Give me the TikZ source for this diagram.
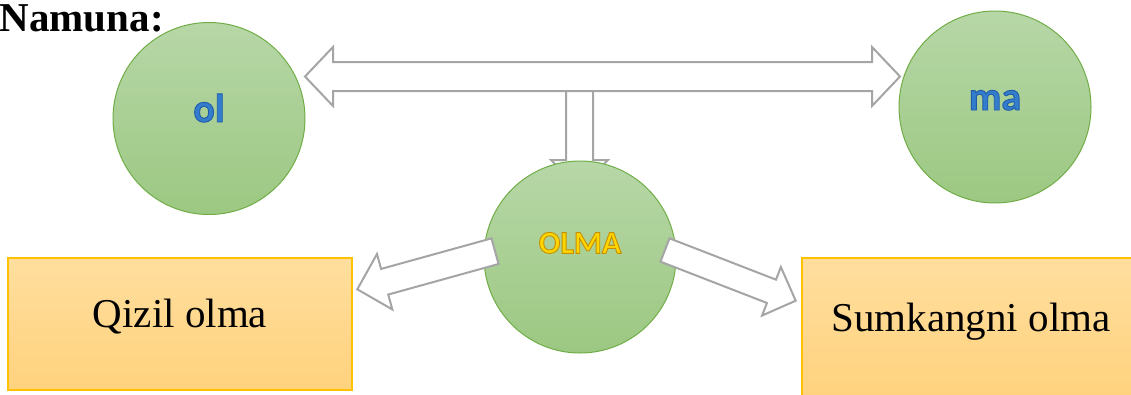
\documentclass[tikz,border=0pt]{standalone}
\usepackage{fontspec}
\setmainfont{Liberation Serif}
\newfontfamily\calib{Carlito}
\usetikzlibrary{calc}
\definecolor{gtop}{RGB}{183,215,167}
\definecolor{gbot}{RGB}{156,200,130}
\definecolor{gedge}{RGB}{112,173,71}
\definecolor{otop}{RGB}{255,222,158}
\definecolor{obot}{RGB}{255,210,125}
\definecolor{oedge}{RGB}{255,192,0}
\definecolor{agray}{RGB}{165,165,165}
\definecolor{lblue}{RGB}{52,125,205}
\definecolor{lgold}{RGB}{255,214,0}
\newcommand\outlined[2]{\special{pdf:literal direct #1 RG 0.9 w 2 Tr}#2\special{pdf:literal direct 0 Tr}}
\tikzset{
  bubble/.style={circle, minimum size=192pt, inner sep=0pt, draw=gedge, line width=1pt,
                 top color=gtop, bottom color=gbot},
  box/.style={rectangle, draw=oedge, line width=1.3pt, top color=otop, bottom color=obot,
              inner sep=0pt, font=\fontsize{41}{41}\selectfont},
  arr/.style={draw=agray, fill=white, line width=2pt, line join=miter},
  bublabel/.style={font=\calib\bfseries\fontsize{40}{40}\selectfont, text=lblue},
}
% single block arrow: tail, tip, shaft half-width, head half-width, head length
\newcommand\blockarr[5]{%
  \coordinate (#1-#2-h) at ($(#2)!#5!(#1)$);
  \draw[arr] ($(#1)!#3!90:(#2)$) -- ($(#1-#2-h)!#3!90:(#2)$) -- ($(#1-#2-h)!#4!90:(#2)$)
    -- (#2) -- ($(#1-#2-h)!#4!-90:(#2)$) -- ($(#1-#2-h)!#3!-90:(#2)$)
    -- ($(#1)!#3!-90:(#2)$) -- cycle;}
% double block arrow: end1, end2, shaft half-width, head half-width, head length
\newcommand\dblarr[5]{%
  \coordinate (#1-#2-a) at ($(#1)!#5!(#2)$);
  \coordinate (#1-#2-b) at ($(#2)!#5!(#1)$);
  \draw[arr] (#1) -- ($(#1-#2-a)!#4!90:(#2)$) -- ($(#1-#2-a)!#3!90:(#2)$)
    -- ($(#1-#2-b)!#3!-90:(#1)$) -- ($(#1-#2-b)!#4!-90:(#1)$) -- (#2)
    -- ($(#1-#2-b)!#4!90:(#1)$) -- ($(#1-#2-b)!#3!90:(#1)$)
    -- ($(#1-#2-a)!#3!-90:(#2)$) -- ($(#1-#2-a)!#4!-90:(#2)$) -- cycle;}
\begin{document}
\begin{tikzpicture}[x=1pt,y=1pt]
\useasboundingbox (0,0) rectangle (1131,-394);

\node[anchor=base west, inner sep=0pt, font=\bfseries\fontsize{41}{41}\selectfont]
  (title) at (-0.5,-31.5) {Namuna:};

% connector end points
\coordinate (hl) at (305,-76.5);
\coordinate (hr) at (900,-76.5);
\coordinate (dtop) at (579.5,-90);
\coordinate (dtip) at (579.5,-188);
\coordinate (ltail) at (495,-251.2);
\coordinate (ltip) at (357.3,-289.3);
\coordinate (rtail) at (665,-250);
\coordinate (rtip) at (795.7,-300.7);

% down arrow (behind the OLMA circle)
\blockarr{dtop}{dtip}{13.5pt}{28.5pt}{28pt}
% horizontal double arrow
\dblarr{hl}{hr}{14.5pt}{29.5pt}{28pt}

\node[bubble, bublabel, text height=10pt, text depth=3pt] (ol) at (209,-118.5)
  {\outlined{0.12 0.36 0.66}{ol}};
\node[bubble, bublabel, text height=9pt, text depth=3pt] (ma) at (995,-107)
  {\outlined{0.12 0.36 0.66}{ma}};
\node[bubble, font=\calib\bfseries\fontsize{32}{32}\selectfont, text=lgold,
      text height=5pt, text depth=12.4pt] (olma) at (580,-257)
  {\outlined{0.78 0.56 0}{OLMA}};

% side arrows (over the OLMA circle)
\blockarr{ltail}{ltip}{13.3pt}{28.8pt}{28.4pt}
\blockarr{rtail}{rtip}{12.5pt}{26pt}{26pt}

\node[box, minimum width=344pt, minimum height=132pt, text height=20pt, text depth=14pt]
  (qizil) at (180,-324) {Qizil olma};
\node[box, minimum width=338pt, minimum height=142pt, text height=17pt, text depth=12pt]
  (sumka) at (971,-329) {Sumkangni olma};
\end{tikzpicture}
\end{document}
